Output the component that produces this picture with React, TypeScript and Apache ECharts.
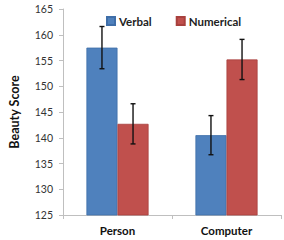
import React, { useEffect, useRef } from "react";
import * as echarts from "echarts";

const categories = ["Person", "Computer"];
const verbal = [157.5, 140.5];
const numerical = [142.7, 155.2];
const verbalErr = [4.1, 3.8];
const numericalErr = [3.9, 3.9];
const yTicks = { min: 125, max: 165, interval: 5 };

const FONT = "Lato";
const CAT_GAP = 0.43;

function errorSeries(name: string, values: number[], errs: number[], side: number) {
  return {
    type: "custom",
    name: name + " error",
    z: 10,
    silent: true,
    data: values.map((v, i) => [i, v - errs[i], v + errs[i]]),
    renderItem: (params: any, api: any) => {
      const band = api.size([1, 0])[0];
      const barW = (band * (1 - CAT_GAP)) / 2;
      const c = api.coord([api.value(0), api.value(1)]);
      const t = api.coord([api.value(0), api.value(2)]);
      const x = c[0] + (side * barW) / 2;
      const cap = 2.5;
      const style = { stroke: "#111", lineWidth: 1.4 };
      return {
        type: "group",
        children: [
          { type: "line", shape: { x1: x, y1: c[1], x2: x, y2: t[1] }, style },
          { type: "line", shape: { x1: x - cap, y1: c[1], x2: x + cap, y2: c[1] }, style },
          { type: "line", shape: { x1: x - cap, y1: t[1], x2: x + cap, y2: t[1] }, style },
        ],
      };
    },
  };
}

export default function App() {
  const ref = useRef<HTMLDivElement>(null);
  useEffect(() => {
    if (!ref.current) return;
    const chart = echarts.init(ref.current, null, { renderer: "svg" });
    chart.setOption({
      animation: false,
      backgroundColor: "#fff",
      legend: {
        left: 101,
        top: 10,
        itemWidth: 8,
        itemHeight: 8,
        itemGap: 24,
        icon: "rect",
        data: ["Verbal", "Numerical"],
        textStyle: { fontFamily: FONT, fontWeight: "bold", fontSize: 11.5, color: "#222", padding: [0, 0, 0, -1] },
      },
      grid: { left: 51, right: 3, top: 9, bottom: 25, containLabel: false },
      xAxis: {
        type: "category",
        data: categories,
        axisLine: { lineStyle: { color: "#bfbfbf" } },
        axisTick: { show: true, length: 4, lineStyle: { color: "#bfbfbf" } },
        axisLabel: { fontFamily: FONT, fontWeight: "bold", fontSize: 11.5, color: "#111", margin: 9 },
      },
      yAxis: {
        type: "value",
        min: yTicks.min,
        max: yTicks.max,
        interval: yTicks.interval,
        name: "Beauty Score",
        nameLocation: "middle",
        nameGap: 42,
        nameTextStyle: { fontFamily: FONT, fontWeight: "bold", fontSize: 12.5, color: "#111" },
        axisLine: { show: true, lineStyle: { color: "#bfbfbf" } },
        axisTick: { show: true, length: 4, lineStyle: { color: "#bfbfbf" } },
        axisLabel: { fontFamily: FONT, fontSize: 10.5, color: "#333", margin: 10 },
        splitLine: { show: false },
      },
      series: [
        {
          name: "Verbal",
          type: "bar",
          data: verbal,
          barGap: "0%",
          barCategoryGap: "43%",
          itemStyle: { color: "#4f81bd", borderColor: "#3f6ea8", borderWidth: 0.8 },
        },
        {
          name: "Numerical",
          type: "bar",
          data: numerical,
          itemStyle: { color: "#c0504d", borderColor: "#a8403d", borderWidth: 0.8 },
        },
        errorSeries("Verbal", verbal, verbalErr, -1),
        errorSeries("Numerical", numerical, numericalErr, 1),
      ],
    });
    return () => chart.dispose();
  }, []);
  return <div ref={ref} style={{ width: 284, height: 240, position: "absolute", left: 0, top: 0 }} />;
}
